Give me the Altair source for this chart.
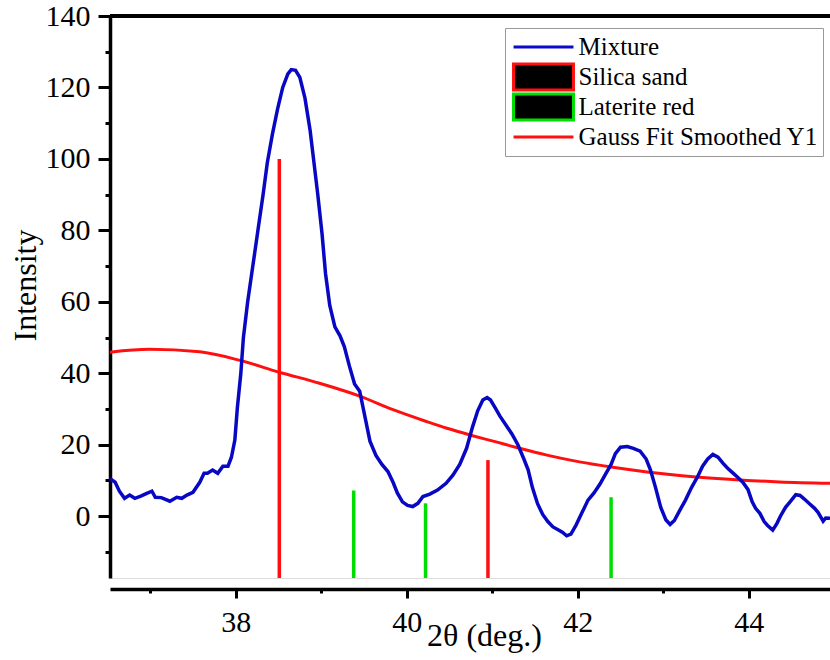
import altair as alt
import pandas as pd

# ---- data ----
mix_x = [36.53, 36.59, 36.64, 36.70, 36.76, 36.82, 36.89, 36.96, 37.02, 37.06,
         37.13, 37.23, 37.31, 37.37, 37.43, 37.50, 37.58, 37.63, 37.67, 37.73,
         37.79, 37.85, 37.91, 37.95, 37.99, 38.02, 38.06, 38.09, 38.14, 38.20,
         38.26, 38.32, 38.37, 38.43, 38.49, 38.55, 38.61, 38.65, 38.70, 38.75,
         38.81, 38.87, 38.91, 38.96, 39.01, 39.05, 39.10, 39.16, 39.22, 39.27,
         39.33, 39.39, 39.45, 39.51, 39.57, 39.64, 39.71, 39.78, 39.84, 39.89,
         39.95, 40.01, 40.07, 40.13, 40.19, 40.27, 40.36, 40.46, 40.54, 40.62,
         40.70, 40.77, 40.83, 40.89, 40.94, 40.98, 41.03, 41.09, 41.16, 41.23,
         41.30, 41.37, 41.42, 41.47, 41.53, 41.59, 41.65, 41.71, 41.77, 41.82,
         41.87, 41.92, 41.98, 42.05, 42.12, 42.19, 42.26, 42.33, 42.39, 42.44,
         42.50, 42.58, 42.65, 42.73, 42.80, 42.85, 42.91, 42.97, 43.03, 43.08,
         43.13, 43.19, 43.26, 43.33, 43.40, 43.46, 43.52, 43.58, 43.64, 43.70,
         43.75, 43.81, 43.87, 43.93, 43.99, 44.04, 44.08, 44.13, 44.18, 44.22,
         44.28, 44.33, 44.37, 44.43, 44.49, 44.55, 44.60, 44.65, 44.71, 44.77,
         44.81, 44.87, 44.90, 44.95]
mix_y = [10.5, 9.5, 7.0, 5.0, 5.9, 5.0, 5.6, 6.4, 7.0, 5.3,
         5.2, 4.2, 5.3, 5.0, 5.9, 6.7, 9.5, 12.0, 12.0, 12.9,
         12.0, 14.0, 14.0, 16.5, 21.3, 30.5, 40, 50, 60, 70,
         80, 90, 99, 107, 114, 120, 123.8, 125, 124.8, 122.8,
         117, 108, 100, 90, 79, 68, 59, 53, 50.5, 47.5,
         42, 37, 35, 28, 21, 17, 14.5, 12.5, 9.5, 6.5,
         4, 3.0, 2.7, 3.6, 5.5, 6.2, 7.3, 9.2, 11.5, 14.5,
         19, 25, 29.5, 32.5, 33.2, 32.5, 30.5, 28, 25.5, 23,
         20, 16, 13, 8, 3.5, 0.5, -1.5, -3, -3.8, -4.5,
         -5.5, -5, -2.5, 1, 4.5, 6.5, 9, 12, 14.5, 17.5,
         19.3, 19.5, 19, 18.2, 16, 13, 8, 2.5, -1, -2.3,
         -1.2, 1.5, 4.5, 8, 11, 14, 16, 17.3, 16.5, 14.8,
         13.5, 12.2, 10.9, 9.5, 7.5, 4, 2.2, 0.8, -1.5, -2.6,
         -3.9, -2, 0, 2.5, 4.2, 6, 5.8, 4.8, 3.5, 2.2,
         1.1, -1.4, -0.5, -0.6]

gauss_x = [36.53, 36.99, 37.58, 38.05, 38.51, 38.98, 39.45, 39.84, 40.23, 40.47,
           40.76, 41.01, 41.32, 41.64, 42.02, 42.41, 42.81, 43.19, 43.58, 43.98,
           44.36, 44.95]
gauss_y = [45.9, 46.7, 46.0, 43.6, 40.3, 37.2, 33.6, 29.8, 26.5, 24.6,
           22.6, 21.0, 19.0, 17.1, 15.2, 13.7, 12.4, 11.4, 10.6, 10.0,
           9.6, 9.2]

silica_x = [38.51, 40.95]
silica_y = [100, 15.7]
laterite_x = [39.38, 40.22, 42.39]
laterite_y = [7.2, 3.6, 5.3]

series_names = ["Mixture", "Silica sand", "Laterite red", "Gauss Fit Smoothed Y1"]
series_colors = ["#0A0ACC", "#FF1010", "#00DD00", "#FF1010"]
series_fills = ["transparent", "black", "black", "transparent"]
LINE_SHAPE = "M-2.22,0H2.22"
BOX_SHAPE = "M-2.22,-0.96H2.22V0.96H-2.22Z"
series_shapes = [LINE_SHAPE, BOX_SHAPE, BOX_SHAPE, LINE_SHAPE]

x_ticks = [37, 38, 39, 40, 41, 42, 43, 44]
y_ticks = [-10, 0, 10, 20, 30, 40, 50, 60, 70, 80, 90, 100, 110, 120, 130, 140]
X_DOMAIN = [36.53, 44.95]
Y_DOMAIN = [-17.3, 140]

FONT = "Liberation Serif"

mix_df = pd.DataFrame({"x": mix_x, "y": mix_y})
gauss_df = pd.DataFrame({"x": gauss_x, "y": gauss_y})
silica_df = pd.DataFrame({"x": silica_x, "y": silica_y})
laterite_df = pd.DataFrame({"x": laterite_x, "y": laterite_y})
legend_df = pd.DataFrame({"series": series_names})

x_axis = alt.Axis(
    values=x_ticks, title="2θ (deg.)", grid=False,
    labelExpr="datum.value % 2 === 0 ? datum.label : ''",
    tickSize=9,
    tickDash={"condition": {"test": "datum.value % 2 === 0", "value": [30, 1]}, "value": [4, 30]},
    offset=11, domainColor="black", domainWidth=3.5, tickColor="black", tickWidth=3,
    labelFont=FONT, labelFontSize=30, labelColor="black", labelPadding=9,
    titleFont=FONT, titleFontSize=32, titleFontWeight="normal", titleColor="black",
    titleX=374, titleY=31, titleBaseline="top", titleAlign="center", titleAnchor="start",
)
y_axis = alt.Axis(
    values=y_ticks, title="Intensity", grid=False,
    labelExpr="datum.value % 20 === 0 ? datum.label : ''",
    tickSize=12,
    tickDash={"condition": {"test": "datum.value % 20 === 0", "value": [30, 1]}, "value": [5, 30]},
    domainColor="black", domainWidth=3.5, tickColor="black", tickWidth=3,
    labelFont=FONT, labelFontSize=30, labelColor="black", labelPadding=8,
    titleFont=FONT, titleFontSize=32, titleFontWeight="normal", titleColor="black",
    titlePadding=3, titleY=269,
)

xs = alt.Scale(domain=X_DOMAIN, nice=False, zero=False)
ys = alt.Scale(domain=Y_DOMAIN, nice=False, zero=False)
X = alt.X("x:Q", scale=xs, axis=x_axis)
Y = alt.Y("y:Q", scale=ys, axis=y_axis)

gauss = alt.Chart(gauss_df).mark_line(color="#FF1010", strokeWidth=3, interpolate="monotone").encode(x=X, y=Y)
mix = alt.Chart(mix_df).mark_line(color="#0808C4", strokeWidth=3.5).encode(x=X, y=Y)
silica = alt.Chart(silica_df).mark_rule(color="#FF1010", strokeWidth=3.5).encode(
    x=X, y=Y, y2=alt.datum(Y_DOMAIN[0]))
laterite = alt.Chart(laterite_df).mark_rule(color="#00DD00", strokeWidth=3.5).encode(
    x=X, y=Y, y2=alt.datum(Y_DOMAIN[0]))
top_frame = alt.Chart(mix_df).mark_rule(color="black", strokeWidth=3.5).encode(
    y=alt.YDatum(Y_DOMAIN[1], type="quantitative", scale=ys, axis=y_axis))

leg = alt.Legend(
    title=None, orient="none", legendX=395, legendY=12,
    symbolSize=729, symbolStrokeWidth=3, symbolOffset=19.5, labelOffset=20,
    symbolOpacity=1, clipHeight=30,
    labelFont=FONT, labelFontSize=25, labelColor="black", labelLimit=500,
    padding=4, rowPadding=0, strokeColor="#999999", fillColor="white",
)
legend_layer = alt.Chart(legend_df).transform_filter("false").mark_point(filled=False, opacity=1).encode(
    stroke=alt.Stroke("series:N", scale=alt.Scale(domain=series_names, range=series_colors), legend=leg),
    fill=alt.Fill("series:N", scale=alt.Scale(domain=series_names, range=series_fills), legend=leg),
    shape=alt.Shape("series:N", scale=alt.Scale(domain=series_names, range=series_shapes), legend=leg),
)

chart = alt.layer(gauss, mix, silica, laterite, top_frame, legend_layer).properties(
    width=720, height=562,
    padding={"left": 110, "top": 16, "right": 0, "bottom": 82},
    autosize=alt.AutoSizeParams(type="none"),
    background="white",
).configure_view(stroke=None).configure(font=FONT).configure_axis(
    labelFont=FONT, titleFont=FONT).configure_legend(labelFont=FONT)

chart.save("out.html", embed_options={"renderer": "svg", "actions": False})
